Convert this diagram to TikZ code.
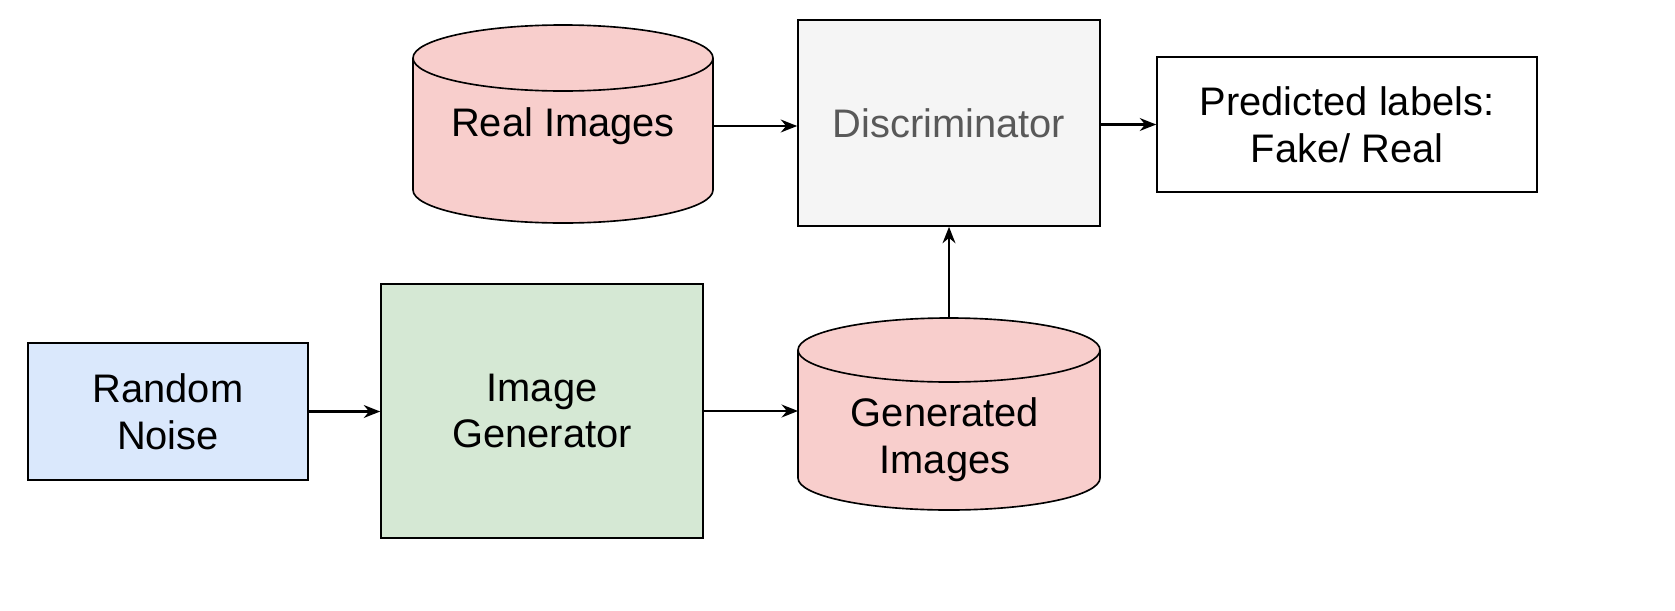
\documentclass[tikz,border=0pt]{standalone}
\usepackage{fontspec}
\setmainfont{Liberation Sans}
\usetikzlibrary{arrows.meta}
\definecolor{cylred}{HTML}{F8CECC}
\definecolor{noiseblue}{HTML}{DAE8FC}
\definecolor{gengreen}{HTML}{D5E8D4}
\definecolor{discgray}{HTML}{F5F5F5}
\begin{document}
\begin{tikzpicture}[x=0.03cm,y=-0.03cm,
  lbl/.style={font=\fontsize{34}{40}\selectfont, align=center},
  boxst/.style={draw=black, line width=1.4pt},
  arr/.style={-{Stealth[length=14pt,width=11pt]}, line width=1.8pt}]
\useasboundingbox (0,0) rectangle (1675,610);
% cylinders
\newcommand{\cyl}[5]{% x1 x2 ytop ybottom ry
  \fill[cylred] (#1,#3) -- (#1,#4) arc[start angle=180,end angle=0,x radius={(#2-#1)/2},y radius=#5] -- (#2,#3) arc[start angle=0,end angle=-180,x radius={(#2-#1)/2},y radius=#5] -- cycle;
  \draw[line width=1.4pt] (#1,#3) -- (#1,#4) arc[start angle=180,end angle=0,x radius={(#2-#1)/2},y radius=#5] -- (#2,#3);
  \draw[line width=1.4pt] ({(#1+#2)/2},#3) ellipse[x radius={(#2-#1)/2},y radius=#5];
}
\cyl{413}{713}{58}{190}{33}
\cyl{798}{1100}{350}{478}{32}
\node[lbl] (real) at (563,126) {Real Images};
\coordinate (realE) at (713,126);
\node[lbl] (gen) at (945,440) {Generated\\Images};
\coordinate (genN) at (949,318);
\coordinate (genW) at (798,411);
\node[boxst, fill=discgray, minimum width=302*0.03cm, minimum height=206*0.03cm, lbl, text=black!65] (disc) at (949,123) {Discriminator};
\node[boxst, fill=white, minimum width=380*0.03cm, minimum height=135*0.03cm, lbl] (pred) at (1347,124.5) {Predicted labels:\\Fake/ Real};
\node[boxst, fill=noiseblue, minimum width=280*0.03cm, minimum height=137*0.03cm, lbl] (noise) at (168,411.5) {Random\\Noise};
\node[boxst, fill=gengreen, minimum width=322*0.03cm, minimum height=254*0.03cm, lbl] (igen) at (542,411) {Image\\Generator};
\draw[arr] (realE) -- (realE -| disc.west);
\draw[arr] (disc.east |- pred.west) -- (pred.west);
\draw[arr] (genN) -- (genN |- disc.south);
\draw[arr] (noise.east) -- (noise.east -| igen.west);
\draw[arr] (igen.east) -- (genW);
\end{tikzpicture}
\end{document}
